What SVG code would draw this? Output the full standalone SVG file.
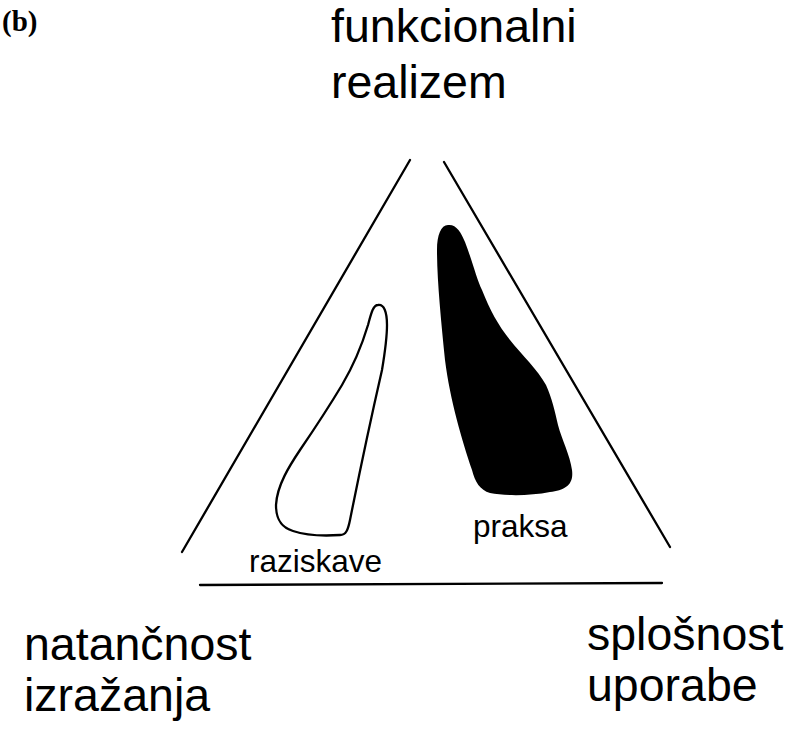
<svg xmlns="http://www.w3.org/2000/svg" width="811" height="731" viewBox="0 0 811 731">
<style>
.big{font-family:"Liberation Sans",Arial,sans-serif;font-size:46.5px;fill:#000}
.small{font-family:"Liberation Sans",Arial,sans-serif;font-size:31.5px;fill:#000}
.ln{stroke:#000;stroke-width:2.3;fill:none;stroke-linecap:round}
</style>
<rect width="811" height="731" fill="#fff"/>
<text x="2" y="31" font-family="'Liberation Serif','Times New Roman',serif" font-size="29" font-weight="bold">(b)</text>
<g id="lines">
<line class="ln" x1="410" y1="160" x2="182" y2="552"/>
<line class="ln" x1="444" y1="162" x2="670" y2="547"/>
<line class="ln" x1="200" y1="585" x2="662" y2="583"/>
</g>
<g id="raziskave">
<path class="ln" d="M378,305 C384,304 387,312 387,325 C387,338 385,352 382,370 C374,405 362,460 350,520 C348,530 346,535 340,535 C325,536 305,535 293,531 C280,527 276,518 276,505 C277,485 290,465 300,450 C315,428 330,405 342,385 C352,368 362,345 368,325 C371,314 373,305 378,305 Z"/>
<text class="small" x="249" y="572">raziskave</text>
</g>
<g id="praksa">
<path fill="#000" d="M448,225 C456,224 461,232 465,242 C472,260 477,280 482,290 C490,310 498,325 510,340 C522,355 538,370 546,385 C552,398 555,412 558,425 C562,440 570,455 572,470 C574,485 565,490 550,492 C530,496 505,496 490,493 C480,490 475,482 472,470 C462,440 450,400 445,360 C441,320 437,280 437,250 C437,235 441,225 448,225 Z"/>
<text class="small" x="473" y="537">praksa</text>
</g>
<g id="funkcionalni">
<text class="big" x="331" y="42">funkcionalni</text>
<text class="big" x="331" y="98">realizem</text>
</g>
<g id="natancnost">
<text class="big" x="24" y="660">natančnost</text>
<text class="big" x="24" y="711">izražanja</text>
</g>
<g id="splosnost">
<text class="big" x="587" y="650">splošnost</text>
<text class="big" x="587" y="701">uporabe</text>
</g>
</svg>
